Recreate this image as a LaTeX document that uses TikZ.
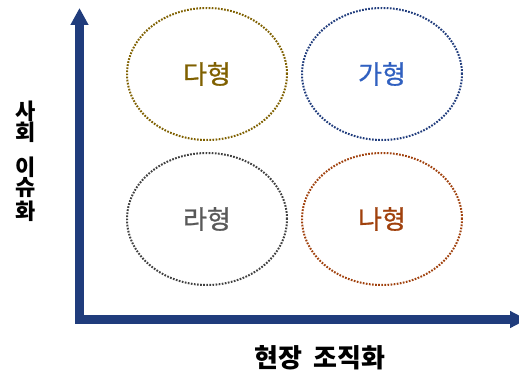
\documentclass[tikz,border=0pt]{standalone}
\usepackage{fontspec}
\setmainfont{Noto Sans CJK KR}
\newfontfamily\typefont{Noto Sans CJK KR}[FakeBold=0.9]
\usetikzlibrary{arrows.meta,shapes.geometric}
\definecolor{axisblue}{HTML}{203C7C}
\definecolor{daolive}{HTML}{7F6000}
\definecolor{gablue}{HTML}{3060C0}
\definecolor{galine}{HTML}{203C7C}
\definecolor{ragray}{HTML}{595959}
\definecolor{raline}{HTML}{404040}
\definecolor{nabrown}{HTML}{A0410D}
\tikzset{
	axis/.style={line width=8.5pt,axisblue,line join=miter,
		{Triangle[length=17pt,width=17pt]}-{Triangle[length=17pt,width=16pt]}},
	typeellipse/.style={ellipse,draw=#1,text=#1,line width=2pt,dash pattern=on 1.7pt off 1.4pt,
		minimum width=160pt,minimum height=132pt,font=\typefont\fontsize{26}{30}\selectfont},
	axislabel/.style={inner sep=0pt,font=\fontsize{26}{30}\selectfont\bfseries}
}
\begin{document}
\begin{tikzpicture}[x=1pt,y=1pt]
				\useasboundingbox (0,0) rectangle (519,373);
				\coordinate (O) at (79.5,53.5);
				\coordinate (ytop) at (79.5,365);
				\coordinate (xend) at (527,53.5);
				\draw[axis] (ytop) |- (xend);
				\node[typeellipse=daolive] (da) at (207,299) {다형};
				\node[typeellipse=galine,text=gablue] (ga) at (382,299) {가형};
				\node[typeellipse=raline,text=ragray] (ra) at (207,154) {라형};
				\node[typeellipse=nabrown] (na) at (382,154) {나형};
				\node[axislabel] (xlab) at (320,15) {현장\hspace{0.45em}조직화};
				\foreach \c/\y [count=\i] in {사/262, 회/241, 이/206, 슈/185, 화/162} \node[axislabel,font=\fontsize{22}{24}\selectfont\bfseries] (ylab\i) at (26,\y) {\c};
			\end{tikzpicture}
\end{document}
